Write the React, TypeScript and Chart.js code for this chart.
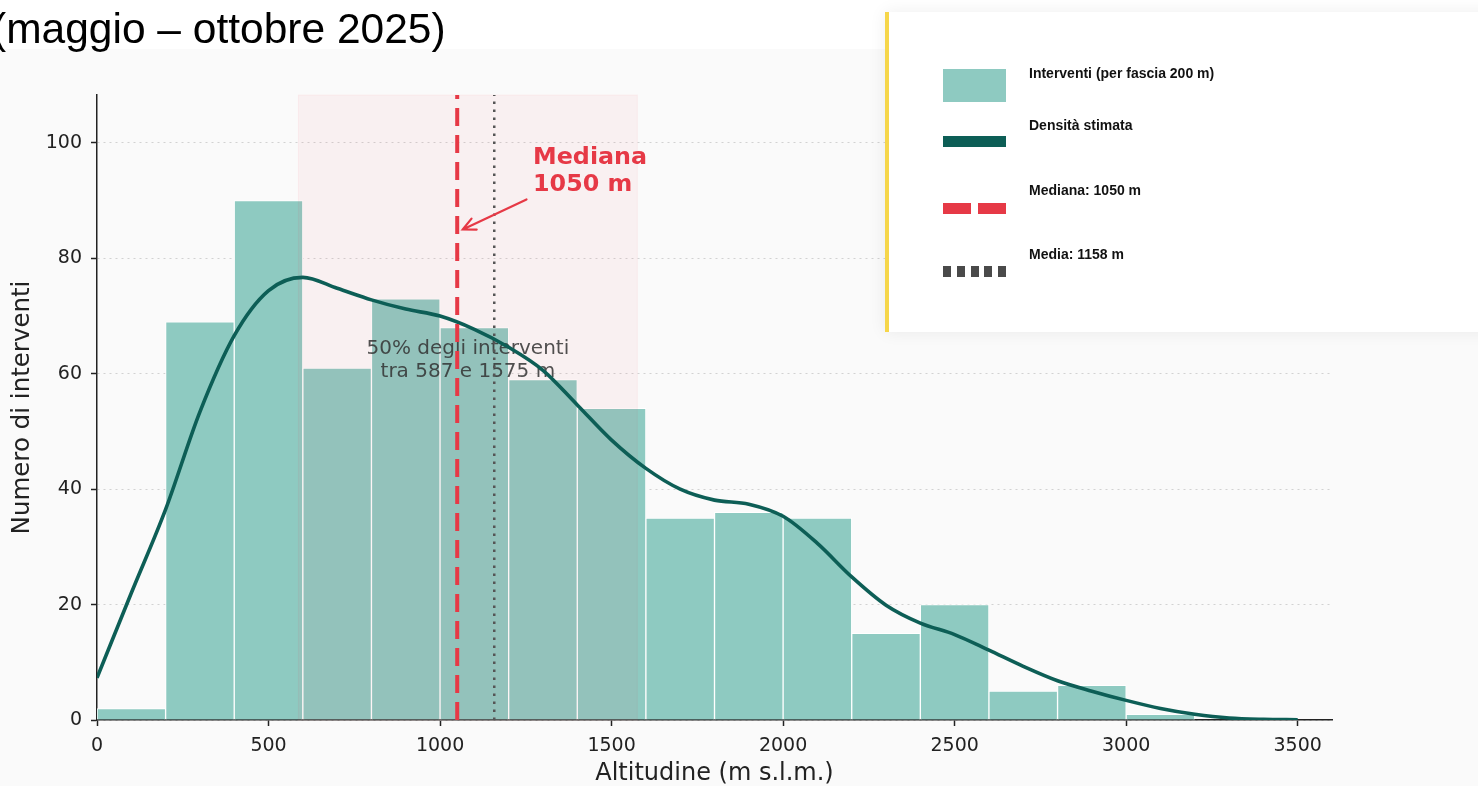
import React, { useEffect, useRef } from 'react';
import { Chart, registerables } from 'chart.js';

Chart.register(...registerables);

// ---- Data ----
const binStarts = [0, 200, 400, 600, 800, 1000, 1200, 1400, 1600, 1800, 2000, 2200, 2400, 2600, 2800, 3000];
const BIN_WIDTH = 200;
const counts = [2, 69, 90, 61, 73, 68, 59, 54, 35, 36, 35, 15, 20, 5, 6, 1];

const kdeX = [0, 100, 200, 300, 400, 500, 600, 700, 800, 900, 1000, 1100, 1200, 1300, 1400, 1500, 1600, 1700,
  1800, 1900, 2000, 2100, 2200, 2300, 2400, 2500, 2600, 2700, 2800, 2900, 3000, 3100, 3200, 3300, 3400, 3500];
const kdeY = [7.3, 22.0, 36.5, 53.4, 66.6, 74.4, 76.7, 74.8, 72.8, 71.2, 70.0, 67.7, 64.6, 60.6, 54.6, 48.5, 43.6, 40.0,
  38.1, 37.4, 35.3, 30.6, 24.8, 19.9, 16.8, 14.8, 12.1, 9.3, 6.8, 5.0, 3.4, 2.0, 1.0, 0.35, 0.12, 0.05];

const xTicks = [0, 500, 1000, 1500, 2000, 2500, 3000, 3500];
const yTicks = [0, 20, 40, 60, 80, 100];
const X_MAX = 3600;
const Y_MAX = 108.3;

const MEDIAN = 1050;
const MEAN = 1158;
const Q1 = 587;
const Q3 = 1575;
const SPAN_LABEL_Y = 62;
const medianLabel = ['Mediana', '1050 m'];
const MEDIAN_LABEL_AT = [1271, 95.5];
const ARROW_FROM = [1252, 90.2];
const ARROW_TO = [1066, 85];
const spanLabel = ['50% degli interventi', `tra ${Q1} e ${Q3} m`];

const TITLE = '(maggio – ottobre 2025)';
const legendLabels = ['Interventi (per fascia 200 m)', 'Densità stimata', 'Mediana: 1050 m', 'Media: 1158 m'];
const xTitle = 'Altitudine (m s.l.m.)';
const yTitle = 'Numero di interventi';

const TEAL = '#8ecac1';
const DARK = '#0d5e56';
const RED = '#e63946';

const overlayPlugin = {
  id: 'overlayPlugin',
  afterDatasetDraw(chart: any, args: any) {
    if (args.index !== 0) return;
    const { ctx, chartArea: a, scales } = chart;
    const x = scales.x, y = scales.y;
    const x1 = x.getPixelForValue(Q1);
    const x2 = x.getPixelForValue(Q3);
    ctx.save();
    ctx.fillStyle = 'rgba(240,70,90,0.055)';
    ctx.fillRect(x1, a.top, x2 - x1, a.bottom - a.top);
    ctx.strokeStyle = 'rgba(240,70,90,0.06)';
    ctx.lineWidth = 1;
    ctx.strokeRect(x1, a.top, x2 - x1, a.bottom - a.top);
    const cx = x.getPixelForValue((Q1 + Q3) / 2);
    const cy = y.getPixelForValue(SPAN_LABEL_Y);
    ctx.fillStyle = 'rgba(51,51,51,0.85)';
    ctx.font = '20px "DejaVu Sans"';
    ctx.textAlign = 'center';
    ctx.textBaseline = 'alphabetic';
    ctx.fillText(spanLabel[0], cx, cy - 8);
    ctx.fillText(spanLabel[1], cx, cy + 15);
    ctx.restore();
  },
  afterDatasetsDraw(chart: any) {
    const { ctx, chartArea: a, scales } = chart;
    const x = scales.x, y = scales.y;
    ctx.save();
    // mean line (dotted)
    const xm = x.getPixelForValue(MEAN);
    ctx.beginPath();
    ctx.setLineDash([2.5, 5.5]);
    ctx.strokeStyle = '#555555';
    ctx.lineWidth = 2.5;
    ctx.moveTo(xm, a.bottom);
    ctx.lineTo(xm, a.top);
    ctx.stroke();
    // median line (dashed)
    const xd = x.getPixelForValue(MEDIAN);
    ctx.beginPath();
    ctx.setLineDash([18, 9]);
    ctx.strokeStyle = RED;
    ctx.lineWidth = 4;
    ctx.moveTo(xd, a.bottom);
    ctx.lineTo(xd, a.top);
    ctx.stroke();
    ctx.setLineDash([]);
    // arrow
    const tx = x.getPixelForValue(ARROW_FROM[0]), ty = y.getPixelForValue(ARROW_FROM[1]);
    const hx = x.getPixelForValue(ARROW_TO[0]), hy = y.getPixelForValue(ARROW_TO[1]);
    ctx.strokeStyle = RED;
    ctx.lineWidth = 2.2;
    ctx.lineCap = 'round';
    ctx.beginPath();
    ctx.moveTo(tx, ty);
    ctx.lineTo(hx, hy);
    const ang = Math.atan2(ty - hy, tx - hx);
    const L = 14, spread = 0.45;
    ctx.moveTo(hx + L * Math.cos(ang + spread), hy + L * Math.sin(ang + spread));
    ctx.lineTo(hx, hy);
    ctx.lineTo(hx + L * Math.cos(ang - spread), hy + L * Math.sin(ang - spread));
    ctx.stroke();
    // median label
    const lx = x.getPixelForValue(MEDIAN_LABEL_AT[0]);
    const ly = y.getPixelForValue(MEDIAN_LABEL_AT[1]);
    ctx.fillStyle = RED;
    ctx.font = 'bold 23.8px "DejaVu Sans"';
    ctx.textAlign = 'left';
    ctx.textBaseline = 'alphabetic';
    ctx.fillText(medianLabel[0], lx, ly - 5);
    ctx.fillText(medianLabel[1], lx, ly + 22);
    ctx.restore();
  },
};

function HistChart() {
  const ref = useRef<HTMLCanvasElement>(null);
  useEffect(() => {
    if (!ref.current) return;
    Chart.defaults.font.family = '"DejaVu Sans", sans-serif';
    const chart = new Chart(ref.current, {
      type: 'bar',
      data: {
        datasets: [
          {
            type: 'bar',
            label: legendLabels[0],
            data: binStarts.map((s, i) => ({ x: s + BIN_WIDTH / 2, y: counts[i] })),
            backgroundColor: TEAL,
            borderColor: '#ffffff',
            borderWidth: 1,
            barPercentage: 1,
            categoryPercentage: 1,
            order: 1,
          } as any,
          {
            type: 'line',
            label: legendLabels[1],
            data: kdeX.map((v, i) => ({ x: v, y: kdeY[i] })),
            borderColor: DARK,
            borderWidth: 3.6,
            pointRadius: 0,
            fill: false,
            cubicInterpolationMode: 'monotone',
            order: 0,
          } as any,
        ],
      },
      options: {
        responsive: false,
        animation: false,
        layout: { padding: { left: 0, right: 146, top: 46, bottom: 0 } },
        plugins: { legend: { display: false }, tooltip: { enabled: false } },
        scales: {
          x: {
            type: 'linear',
            min: 0,
            max: X_MAX,
            offset: false,
            afterBuildTicks: (s: any) => { s.ticks = xTicks.map((v) => ({ value: v })); },
            afterFit: (s: any) => { s.height = 66; },
            grid: { display: true, drawOnChartArea: false, drawTicks: true, tickLength: 6, tickColor: '#222', tickWidth: 1.5, offset: false },
            border: { color: '#222', width: 1.5 },
            ticks: { font: { size: 19 }, color: '#222', padding: 9, maxRotation: 0, autoSkip: false, callback: (v: any) => String(v) },
            title: { display: true, text: xTitle, font: { size: 24, lineHeight: 1 }, color: '#222', padding: { top: 0, bottom: 0 } },
          },
          y: {
            type: 'linear',
            min: 0,
            max: Y_MAX,
            afterBuildTicks: (s: any) => { s.ticks = yTicks.map((v) => ({ value: v })); },
            afterFit: (s: any) => { s.width = 97; },
            grid: { color: '#d2d2d2', lineWidth: 1, tickLength: 6, tickColor: '#222', tickWidth: 1.5, tickBorderDash: [] },
            border: { color: '#222', width: 1.5, dash: [2, 4] },
            ticks: { font: { size: 19 }, color: '#222', padding: 9, callback: (v: any) => String(v) },
            title: { display: true, text: yTitle, font: { size: 24.5, lineHeight: 1 }, color: '#222', padding: { top: 10, bottom: 0 } },
          },
        },
      } as any,
      plugins: [overlayPlugin],
    });
    return () => chart.destroy();
  }, []);
  return <canvas ref={ref} width={1478} height={737} style={{ display: 'block', width: 1478, height: 737 }} />;
}

export default function App() {
  const textStyle: React.CSSProperties = {
    position: 'absolute', left: 140, font: 'bold 14px "Liberation Sans", Arial, sans-serif',
    lineHeight: '16px', color: '#111', whiteSpace: 'nowrap',
  };
  return (
    <div style={{ position: 'fixed', left: 0, top: 0, width: 1478, height: 786, background: '#ffffff', overflow: 'hidden' }}>
      <div style={{ position: 'absolute', left: 0, top: 49, width: 1478, height: 737, background: '#fafafa' }}>
        <HistChart />
      </div>
      <div style={{ position: 'absolute', left: -8, top: 5, font: '42.5px "Liberation Sans", Arial, sans-serif', lineHeight: '48px', color: '#000', whiteSpace: 'nowrap' }}>
        {TITLE}
      </div>
      <div style={{ position: 'absolute', left: 885, top: 12, width: 620, height: 320, background: '#ffffff', borderLeft: '4px solid #f6d64a', boxShadow: '0 0 16px rgba(0,0,0,0.07)' }}>
        <div style={{ position: 'absolute', left: 54, top: 57, width: 63, height: 33, background: TEAL }} />
        <div style={{ ...textStyle, top: 53 }}>{legendLabels[0]}</div>
        <div style={{ position: 'absolute', left: 54, top: 124, width: 63, height: 11, background: DARK }} />
        <div style={{ ...textStyle, top: 105 }}>{legendLabels[1]}</div>
        <div style={{ position: 'absolute', left: 54, top: 191, width: 28, height: 11, background: RED }} />
        <div style={{ position: 'absolute', left: 89, top: 191, width: 28, height: 11, background: RED }} />
        <div style={{ ...textStyle, top: 170 }}>{legendLabels[2]}</div>
        {[0, 1, 2, 3, 4].map((k) => (
          <div key={k} style={{ position: 'absolute', left: 54 + k * 13.75, top: 254, width: 8, height: 11, background: '#4a4a4a' }} />
        ))}
        <div style={{ ...textStyle, top: 234 }}>{legendLabels[3]}</div>
      </div>
    </div>
  );
}
